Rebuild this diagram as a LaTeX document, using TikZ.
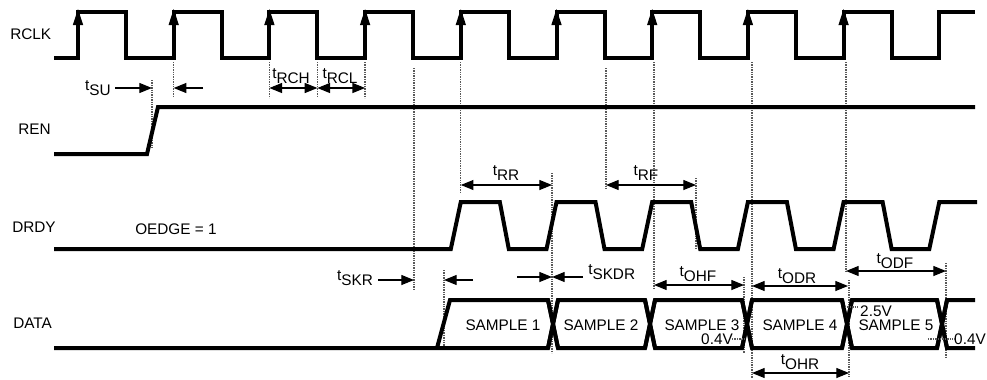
\documentclass[tikz,border=0pt]{standalone}
\usepackage{fontspec}
\setmainfont{Liberation Sans}
\usetikzlibrary{arrows.meta}
\newcommand{\tsub}[1]{t\raisebox{-0.33em}{#1}}

\begin{document}
\begin{tikzpicture}[x=0.75pt, y=-0.75pt,
    signal/.style={line width=3pt, line join=miter},
    guide/.style={line width=1pt, black!65, dash pattern=on 1pt off 0.8pt},
    dim/.style={{Triangle[length=9.5pt,width=7.5pt]}-{Triangle[length=9.5pt,width=7.5pt]}, line width=0.9pt},
    pointer/.style={-{Triangle[length=9.5pt,width=7.5pt]}, line width=0.9pt},
    clkarrow/.style={-{Triangle[length=12pt,width=7.5pt]}, line width=0.9pt},
    lbl/.style={font=\fontsize{11.5}{13}\selectfont, inner sep=0pt}
]
\useasboundingbox (0,0) rectangle (987,379);

% Signal names
\node[lbl, anchor=west] (rclk) at (10,34) {RCLK};
\node[lbl, anchor=west] (ren) at (18,129) {REN};
\node[lbl, anchor=west] (drdy) at (12,227) {DRDY};
\node[lbl, anchor=west] (data) at (13,323) {DATA};

% Guide lines
\foreach \x/\ya/\yb in {152/80/148, 173.7/62/97, 269.4/62/98, 317.4/62/97, 365.1/62/98,
    414/68/290, 460.8/62/192, 552/173/353, 606/68/190, 654/62/288, 696/178/248,
    744/277/353, 752/62/378, 846/62/272, 849/280/378, 946/263/358, 444/270/347}
  \draw[guide] (\x,\ya) -- (\x,\yb);

% RCLK
\draw[signal] (54,58) \foreach \k in {0,...,8} { -- ({78+95.7*\k},58) -- ({78+95.7*\k},12)
    -- ({126+95.7*\k},12) -- ({126+95.7*\k},58) } -- (939.3,58) -- (939.3,12) -- (975,12);
\foreach \k in {0,...,8} \draw[clkarrow] ({78+95.7*\k},40) -- ({78+95.7*\k},9);

% REN
\draw[signal] (54,154) -- (147,154) -- (158,107) -- (975,107);

% DRDY
\draw[signal] (54,249) \foreach \k in {4,...,8} { -- ({68+95.7*\k},249) -- ({78+95.7*\k},202)
    -- ({117+95.7*\k},202) -- ({126+95.7*\k},249) } -- (929.3,249) -- (939.3,202) -- (977,202);
\node[lbl, anchor=west] (oedge) at (135,229) {OEDGE = 1};

% DATA
\draw[signal] (54,348) -- (548,348) -- (558,300);
\draw[signal] (437,348) -- (450,300) -- (548,300) -- (558,348);
\foreach \a/\b in {553/650, 650/747, 747/847, 847/942} {
  \draw[signal] ({\a-5},348) -- ({\a+5},300) -- ({\b-5},300) -- ({\b+5},348);
  \draw[signal] ({\a-5},300) -- ({\a+5},348) -- ({\b-5},348) -- ({\b+5},300);
}
\draw[signal] (937,348) -- (947,300) -- (975,300);
\draw[signal] (937,300) -- (947,348) -- (975,348);
\foreach \n/\x in {1/503, 2/601, 3/702, 4/800, 5/896}
  \node[lbl] (sample\n) at (\x,325) {SAMPLE \n};

% Voltage levels
\node[lbl] (lowa) at (717,339) {0.4V};
\draw[guide] (732,339) -- (745,339);
\node[lbl] (high) at (876,311) {2.5V};
\draw[guide] (845,307) -- (858,307);
\node[lbl] (lowb) at (970,339) {0.4V};
\draw[guide] (928,339) -- (955,339);

% Setup and clock timing
\node[lbl] (tsu) at (98,88) {\tsub{SU}};
\draw[pointer] (115,88) -- (152,88);
\draw[pointer] (203,88) -- (173.7,88);
\node[lbl] (trch) at (291,76) {\tsub{RCH}};
\node[lbl] (trcl) at (340,76) {\tsub{RCL}};
\draw[dim] (269.4,88) -- (317.4,88);
\draw[dim] (317.4,88) -- (365.1,88);

% DRDY timing
\node[lbl] (trr) at (506,173) {\tsub{RR}};
\draw[dim] (460.8,185) -- (552,185);
\node[lbl] (trf) at (646,173) {\tsub{RF}};
\draw[dim] (606,185) -- (696,185);

% Skew timing
\node[lbl] (tskr) at (355,278) {\tsub{SKR}};
\draw[pointer] (378,280) -- (414,280);
\draw[pointer] (473,280) -- (444,280);
\draw[pointer] (517,277) -- (552,277);
\draw[pointer] (583,277) -- (552,277);
\node[lbl, anchor=west] (tskdr) at (588,272) {\tsub{SKDR}};

% Output timing
\node[lbl] (tohf) at (698,274) {\tsub{OHF}};
\draw[dim] (654,285) -- (744,285);
\node[lbl] (todr) at (797,276) {\tsub{ODR}};
\draw[dim] (752,286) -- (848,286);
\node[lbl] (todf) at (895,261) {\tsub{ODF}};
\draw[dim] (846,271) -- (946,271);
\node[lbl] (tohr) at (800,362) {\tsub{OHR}};
\draw[dim] (752,373) -- (849,373);

\end{tikzpicture}
\end{document}
